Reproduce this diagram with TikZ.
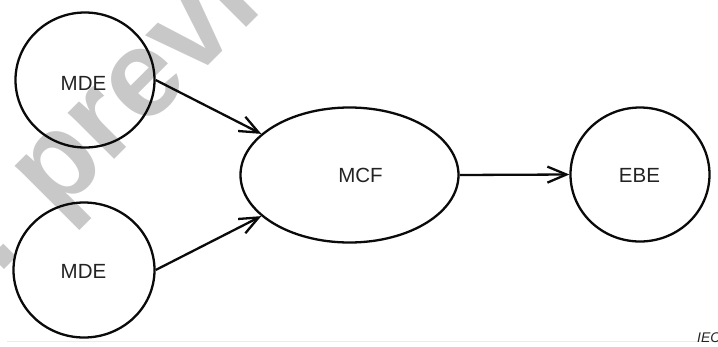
\documentclass[tikz,border=0pt]{standalone}
\usepackage{fontspec}
\setmainfont{Liberation Sans}
\setsansfont{Liberation Sans}
\newfontfamily\wmfont{Liberation Sans}
\usetikzlibrary{shapes.geometric,arrows.meta}
\definecolor{wmgray}{RGB}{200,200,200}
\definecolor{ink}{RGB}{10,10,10}
\definecolor{txt}{RGB}{35,35,35}
\definecolor{rulegray}{RGB}{235,235,235}
\tikzset{
  bubble/.style={ellipse, draw=ink, line width=2.3pt, inner sep=0pt, fill=none},
  lbl/.style={text=txt, font=\fontsize{20.5}{22}\selectfont, inner sep=0pt},
  arr/.style={draw=ink, line width=2.3pt, -{Straight Barb[length=19pt,width=16pt,line width=2.3pt]}},
  wm/.style={text=wmgray, font=\wmfont\bfseries\fontsize{124}{124}\selectfont, inner sep=0pt, rotate=45},
}
\begin{document}
\begin{tikzpicture}[x=1pt,y=-1pt]
\useasboundingbox (0,0) rectangle (718,346);
\clip (0,0) rectangle (718,346);
\fill[white] (0,0) rectangle (718,346);
% watermark
\node[wm, anchor=base west] (wmark) at (-1.6,275.6) {. preview};
% footer rule and IEC
\coordinate (rl) at (7,341.5);
\coordinate (rr) at (718,341.5);
\draw[rulegray, line width=0.7pt] (rl) -- (rr);
\node[anchor=base west, text=txt, font=\itshape\fontsize{14}{14}\selectfont, inner sep=0pt] (iec) at (697,342) {IEC};
% nodes
\node[bubble, minimum width=139pt, minimum height=135pt] (mde1) at (85,80) {};
\node[bubble, minimum width=141pt, minimum height=135pt] (mde2) at (84,270) {};
\node[bubble, minimum width=218pt, minimum height=135pt] (mcf) at (349.5,175) {};
\node[bubble, minimum width=139pt, minimum height=134pt] (ebe) at (640,174.5) {};
\node[lbl] (t1) at (83.5,83.8) {MDE};
\node[lbl] (t2) at (83.5,271.5) {MDE};
\node[lbl] (t3) at (360.5,175.8) {MCF};
\node[lbl] (t4) at (639.5,175.8) {EBE};
% connectors
\draw[arr] (mde1.east) -- (mcf.155);
\draw[arr] (mde2.east) -- (mcf.205);
\draw[arr] (mcf.east) -- (ebe.west);
\end{tikzpicture}
\end{document}
